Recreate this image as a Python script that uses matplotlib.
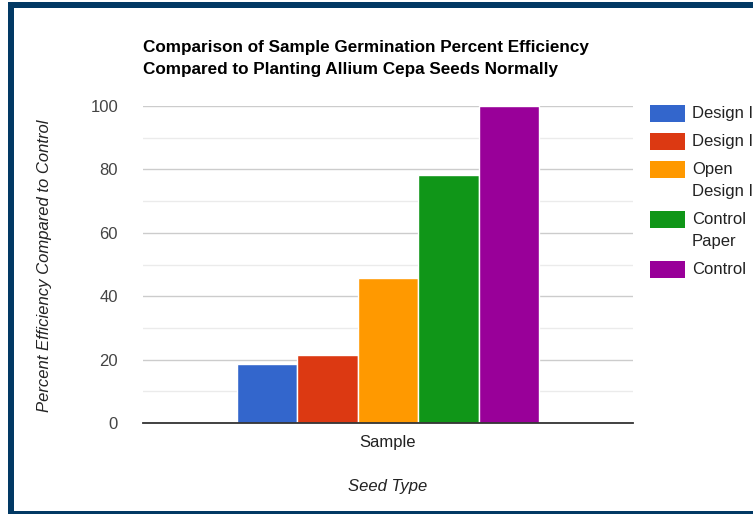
import numpy as np
import matplotlib.pyplot as plt
from matplotlib.patches import Rectangle

plt.rcParams['font.family'] = ['Liberation Sans', 'DejaVu Sans']

# datos
categorias = ['Sample']
series = ['Design I', 'Design II', 'Open\nDesign I', 'Control\nPaper', 'Control']
valores = [18.6, 21.5, 45.7, 78.2, 100.0]
colores = ['#3366cc', '#dc3912', '#ff9900', '#109618', '#990099']
yticks = [0, 20, 40, 60, 80, 100]

W, H = 753, 514
fig = plt.figure(figsize=(W / 100, H / 100), dpi=100)

def fx(px):
    return px / W

def fy(py):
    return 1 - py / H

# area del grafico
ax = fig.add_axes([fx(143), fy(423), fx(633) - fx(143), fy(106) - fy(423)])

grupo = 0.618
ancho = grupo / len(series)
x = np.arange(len(categorias))
for i, (nombre, v, c) in enumerate(zip(series, valores, colores)):
    off = -grupo / 2 + ancho * (i + 0.5)
    ax.bar(x + off, [v], width=ancho, color=c, edgecolor='white', linewidth=1, zorder=3)

ax.set_xlim(-0.5, 0.5)
ax.set_ylim(0, 100)
ax.set_yticks(yticks)
ax.set_yticks(np.arange(10, 100, 20), minor=True)
ax.grid(axis='y', which='major', color='#cccccc', linewidth=1, zorder=0)
ax.grid(axis='y', which='minor', color='#ebebeb', linewidth=1, zorder=0)
ax.axhline(0, color='#333333', linewidth=1.3, zorder=4, clip_on=False)
for s in ax.spines.values():
    s.set_visible(False)
ax.set_xticks(x)
ax.set_xticklabels(categorias)
ax.tick_params(axis='both', which='both', length=0, labelsize=12, labelcolor='#222222')
ax.tick_params(axis='y', pad=18, labelcolor='#444444')
ax.tick_params(axis='x', pad=9)

# titulo
fig.text(fx(143), fy(58.5), 'Comparison of Sample Germination Percent Efficiency\n'
         'Compared to Planting Allium Cepa Seeds Normally',
         ha='left', va='center', fontsize=12.3, fontweight='bold', color='black',
         linespacing=1.6)

fig.text(fx(45), fy(266), 'Percent Efficiency Compared to Control', rotation=90,
         ha='center', va='center', fontsize=12, style='italic', color='#222222')
fig.text(fx(388), fy(487), 'Seed Type', ha='center', va='center',
         fontsize=12, style='italic', color='#222222')

# leyenda a mano (primera linea alineada con el cuadro)
y = 105
for nombre, c in zip(series, colores):
    fig.patches.append(Rectangle((fx(650), fy(y + 17)), fx(685) - fx(650), fy(y) - fy(y + 17),
                                 transform=fig.transFigure, facecolor=c, edgecolor='none'))
    fig.text(fx(692), fy(y + 1), nombre, ha='left', va='top', fontsize=12,
             color='#222222', linespacing=1.6)
    y += 28 + 22 * nombre.count('\n')

# marco azul oscuro
marco = '#023964'
fig.patches.append(Rectangle((fx(8), fy(8)), 1 - fx(8), fy(2) - fy(8),
                             transform=fig.transFigure, facecolor=marco, edgecolor='none'))
fig.patches.append(Rectangle((fx(8), 0), fx(14) - fx(8), fy(2),
                             transform=fig.transFigure, facecolor=marco, edgecolor='none'))
fig.patches.append(Rectangle((fx(8), 0), 1 - fx(8), fy(511),
                             transform=fig.transFigure, facecolor=marco, edgecolor='none'))

fig.savefig('out.png', dpi=100)
